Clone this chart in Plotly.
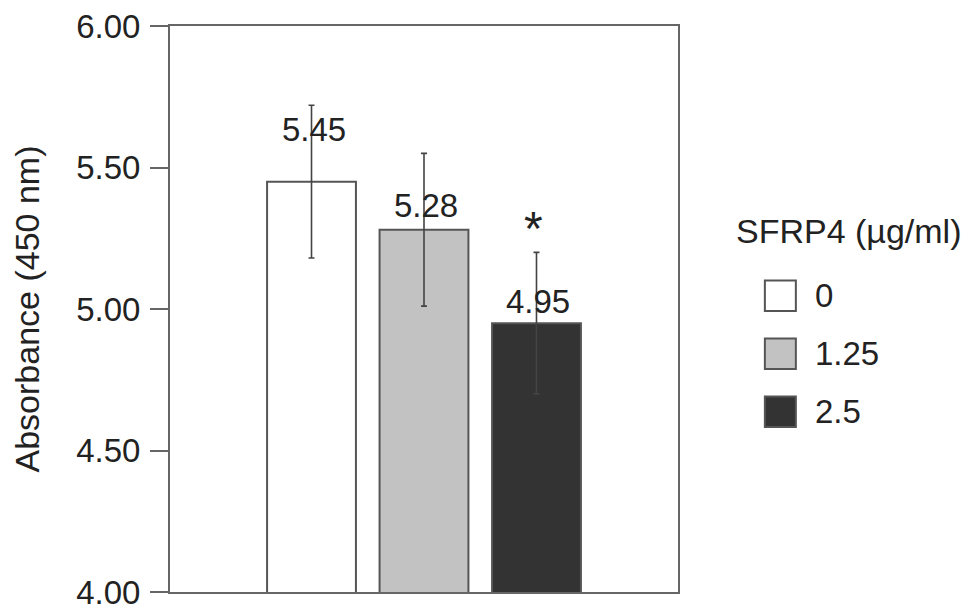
import plotly.graph_objects as go

# ---- data ----
categories = ["0", "1.25", "2.5"]
values = [5.45, 5.28, 4.95]
errors = [0.27, 0.27, 0.25]
value_labels = ["5.45", "5.28", "4.95"]
significance = ["", "", "*"]
y_ticks = [4.00, 4.50, 5.00, 5.50, 6.00]
y_tick_labels = ["4.00", "4.50", "5.00", "5.50", "6.00"]
legend_title = "SFRP4 (\u00b5g/ml)"
y_title = "Absorbance (450 nm)"

# ---- styles ----
fill_colors = ["#ffffff", "#c2c2c2", "#333333"]
outline = "#555555"
FONT = "Liberation Sans, Arial, Helvetica, sans-serif"
label_offsets = [0.183, 0.087, 0.076]   # vertical offset of value labels above bar tops
star_offset = 0.333

fig = go.Figure()
xpos = list(range(len(categories)))
for i, cat in enumerate(categories):
    fig.add_trace(go.Bar(
        x=[xpos[i]], y=[values[i]], name=cat, width=0.79,
        marker=dict(color=fill_colors[i], line=dict(color=outline, width=2)),
        error_y=dict(type="data", array=[errors[i]], color="#444444", thickness=1.6, width=3),
        showlegend=False,
    ))
    fig.add_annotation(x=xpos[i], y=values[i] + label_offsets[i], text=value_labels[i],
                       showarrow=False, xanchor="center", yanchor="middle", xshift=2,
                       font=dict(family=FONT, size=33, color="#222222"))
    if significance[i]:
        fig.add_annotation(x=xpos[i], y=values[i] + star_offset, text=significance[i],
                           showarrow=False, xanchor="center", yanchor="middle", xshift=-3,
                           font=dict(family=FONT, size=48, color="#222222"))

# manual legend (large square swatches)
fig.add_annotation(xref="paper", yref="paper", x=1.111, y=0.638, text=legend_title,
                   showarrow=False, xanchor="left", yanchor="middle",
                   font=dict(family=FONT, size=34, color="#222222"))
for i, cat in enumerate(categories):
    yc = 0.5235 - i * 0.1025
    fig.add_shape(type="rect", xref="paper", yref="paper",
                  x0=1.171, x1=1.232, y0=yc - 0.027, y1=yc + 0.027,
                  fillcolor=fill_colors[i], line=dict(color=outline, width=2))
    fig.add_annotation(xref="paper", yref="paper", x=1.266, y=yc, text=cat,
                       showarrow=False, xanchor="left", yanchor="middle",
                       font=dict(family=FONT, size=33, color="#222222"))

# page body adds an 8px offset, so the figure is 8px smaller and margins shifted
fig.update_layout(
    width=961, height=607,
    margin=dict(l=162, r=291, t=18, b=23),
    paper_bgcolor="white", plot_bgcolor="white",
    barmode="overlay",
    font=dict(family=FONT, size=33, color="#222222"),
    showlegend=False,
)
fig.update_xaxes(range=[-1.258, 3.258], showticklabels=False, ticks="",
                 showgrid=False, zeroline=False, showline=True, mirror=True,
                 linecolor="#666666", linewidth=2, automargin=False)
fig.update_yaxes(range=[4.0, 6.0], tickvals=y_ticks, ticktext=y_tick_labels,
                 ticks="outside", ticklen=18, tickwidth=2, tickcolor="#666666",
                 ticklabelstandoff=3, automargin=False, ticklabeloverflow="allow",
                 showgrid=False, zeroline=False, showline=True, mirror=True,
                 linecolor="#666666", linewidth=2,
                 tickfont=dict(family=FONT, size=33, color="#222222"),
                 title=dict(text=y_title, font=dict(family=FONT, size=34, color="#222222"),
                            standoff=37))

fig.write_html("out.html")
